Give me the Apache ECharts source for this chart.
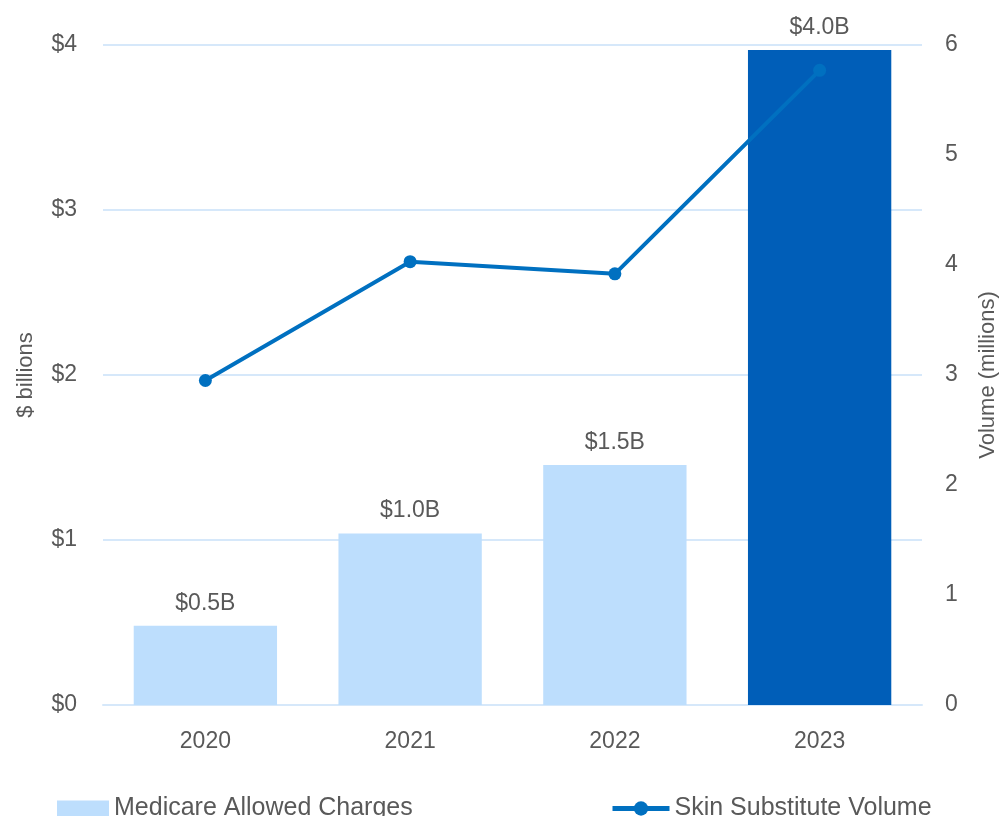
<!DOCTYPE html>
<html><head><meta charset="utf-8">
<script src="https://cdn.jsdelivr.net/npm/echarts@6/dist/echarts.min.js"></script>
<style>html,body{margin:0;padding:0;background:#fff;overflow:hidden}#c{width:999px;height:816px}</style>
</head><body><div id="c"></div>
<script>
const categories = ['2020', '2021', '2022', '2023'];
const charges = [0.48, 1.04, 1.455, 3.97];
const chargeLabels = ['$0.5B', '$1.0B', '$1.5B', '$4.0B'];
const volume = [2.95, 4.03, 3.92, 5.77];
const leftTicks = ['$0', '$1', '$2', '$3', '$4'];

const txt = '#595959';
const font = 'Liberation Sans, Arial, sans-serif';
const fs = 23;
const chart = echarts.init(document.getElementById('c'));
chart.setOption({
  animation: false,
  textStyle: { fontFamily: font },
  grid: { left: 103, right: 77, top: 45, bottom: 111, containLabel: false, outerBoundsMode: 'none' },
  legend: [
    { data: [{ name: 'Medicare Allowed Charges', icon: 'rect' }], left: 52, top: 791, itemWidth: 52, itemHeight: 16, itemGap: 6,
      textStyle: { color: txt, fontSize: 25, fontFamily: font } },
    { data: ['Skin Substitute Volume'], left: 605, top: 791, itemWidth: 57, itemHeight: 18, itemGap: 2,
      lineStyle: { width: 5 },
      textStyle: { color: txt, fontSize: 25, fontFamily: font } }
  ],
  xAxis: {
    type: 'category', data: categories,
    axisLine: { show: true, lineStyle: { color: '#D6E8FA', width: 2 } },
    axisTick: { show: false },
    axisLabel: { color: txt, fontSize: fs, margin: 25 }
  },
  yAxis: [
    { type: 'value', min: 0, max: 4, interval: 1, name: '$ billions', nameLocation: 'middle', nameGap: 66,
      nameTextStyle: { color: txt, fontSize: fs - 1 },
      axisLabel: { color: txt, fontSize: fs, margin: 26, formatter: v => leftTicks[v] },
      axisLine: { show: false }, axisTick: { show: false },
      splitLine: { lineStyle: { color: '#D6E8FA', width: 2 } } },
    { type: 'value', min: 0, max: 6, interval: 1, name: 'Volume (millions)', nameLocation: 'middle', nameGap: 55,
      nameRotate: 90,
      nameTextStyle: { color: txt, fontSize: fs - 1 },
      axisLabel: { color: txt, fontSize: fs, margin: 23 },
      axisLine: { show: false }, axisTick: { show: false }, splitLine: { show: false } }
  ],
  series: [
    { name: 'Medicare Allowed Charges', type: 'bar', barWidth: '70%', yAxisIndex: 0,
      itemStyle: { color: '#BDDEFD' },
      data: charges.map((v, i) => i === 3 ? { value: v, itemStyle: { color: '#005EB8' } } : v),
      label: { show: true, position: 'top', distance: 11, color: txt, fontSize: fs,
        formatter: p => chargeLabels[p.dataIndex] } },
    { name: 'Skin Substitute Volume', type: 'line', yAxisIndex: 1, data: volume,
      symbol: 'circle', symbolSize: 13,
      lineStyle: { color: '#0070C0', width: 4 }, itemStyle: { color: '#0070C0' } }
  ]
});
</script></body></html>
